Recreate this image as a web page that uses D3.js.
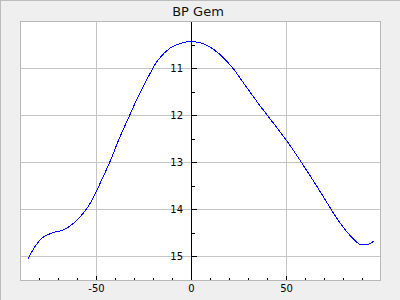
<!DOCTYPE html>
<html><head><meta charset="utf-8">
<script src="https://cdn.jsdelivr.net/npm/d3@7"></script>
<style>
html,body{margin:0;padding:0;background:#efefef;}
svg{display:block;}
text{font-family:"DejaVu Sans",sans-serif;}
</style></head>
<body>
<svg id="c" width="400" height="300"></svg>
<script>
const title = "BP Gem";
const phase = [-86, -79, -72, -67.6, -62.3, -57, -52.6, -48.3, -43, -37.7, -32.5, -28.1, -22.8, -17.6, -11.4, -6.2, -1.8, 4.4, 9.6, 14.9, 21.9, 28.1, 35.1, 40, 50, 58.2, 64, 71.1, 77.2, 85, 88.6, 93, 96.1];
const mag = [15.04, 14.62, 14.48, 14.44, 14.30, 14.08, 13.82, 13.46, 12.99, 12.46, 11.99, 11.60, 11.18, 10.82, 10.57, 10.47, 10.43, 10.45, 10.54, 10.70, 11.0, 11.35, 11.74, 12.0, 12.53, 13.02, 13.38, 13.84, 14.23, 14.62, 14.74, 14.74, 14.67];
const xMajor = [-50, 0, 50];
const xMinor = [-80, -70, -60, -40, -30, -20, -10, 10, 20, 30, 40, 60, 70, 80, 90];
const yMajor = [11, 12, 13, 14, 15];
const yMinor = [10.5, 11.5, 12.5, 13.5, 14.5];

const svg = d3.select("#c");
const L = 20.5, R = 380.5, T = 21.5, B = 280.5;
const x = d3.scaleLinear().domain([-90, 99.5]).range([20.5, 20.5 + 189.5 * 1.9]);
const y = d3.scaleLinear().domain([10, 15.5]).range([21.5, 280]);

// outer frame (top/left)
svg.append("line").attr("x1",0.5).attr("y1",0).attr("x2",0.5).attr("y2",300).attr("stroke","#bcbcbc");
svg.append("line").attr("x1",0).attr("y1",0.5).attr("x2",400).attr("y2",0.5).attr("stroke","#bcbcbc");

svg.append("rect").attr("x",L).attr("y",T).attr("width",R-L).attr("height",B-T).attr("fill","#fff");

const g = svg.append("g").attr("shape-rendering","crispEdges");
// gridlines
g.selectAll(".gx").data(xMajor.filter(d=>d!==0)).join("line")
  .attr("x1",d=>Math.floor(x(d))+0.5).attr("x2",d=>Math.floor(x(d))+0.5).attr("y1",T).attr("y2",B)
  .attr("stroke","#c4c4c4");
g.selectAll(".gy").data(yMajor).join("line")
  .attr("y1",d=>Math.floor(y(d))+0.5).attr("y2",d=>Math.floor(y(d))+0.5).attr("x1",L).attr("x2",R)
  .attr("stroke","#c4c4c4");

svg.append("rect").attr("x",L).attr("y",T).attr("width",R-L).attr("height",B-T)
  .attr("fill","none").attr("stroke","#b8b8b8").attr("shape-rendering","crispEdges");

// y axis at x=0
const ax = Math.floor(x(0))+0.5;
g.append("line").attr("x1",ax).attr("x2",ax).attr("y1",T).attr("y2",B).attr("stroke","#000");
g.selectAll(".ymaj").data(yMajor).join("line")
  .attr("x1",ax).attr("x2",ax+5).attr("y1",d=>Math.floor(y(d))+0.5).attr("y2",d=>Math.floor(y(d))+0.5).attr("stroke","#000");
g.selectAll(".ymin").data(yMinor).join("line")
  .attr("x1",ax).attr("x2",ax+3).attr("y1",d=>Math.floor(y(d))+0.5).attr("y2",d=>Math.floor(y(d))+0.5).attr("stroke","#000");
svg.selectAll(".ylab").data(yMajor).join("text")
  .attr("x",ax-8.5).attr("y",d=>y(d)).attr("dy","0.36em").attr("text-anchor","end")
  .attr("font-size",10).attr("fill","#000").text(d=>String(d));

// x ticks at bottom
g.selectAll(".xmaj").data(xMajor).join("line")
  .attr("x1",d=>Math.floor(x(d))+0.5).attr("x2",d=>Math.floor(x(d))+0.5).attr("y1",B).attr("y2",B-5).attr("stroke","#000");
g.selectAll(".xmin").data(xMinor).join("line")
  .attr("x1",d=>Math.floor(x(d))+0.5).attr("x2",d=>Math.floor(x(d))+0.5).attr("y1",B).attr("y2",B-3).attr("stroke","#000");
svg.selectAll(".xlab").data(xMajor).join("text")
  .attr("x",d=>x(d)).attr("y",292).attr("text-anchor","middle")
  .attr("font-size",10).attr("fill","#000").text(d=>String(d));

// curve
const line = d3.line().x((d,i)=>x(phase[i])).y(d=>y(d)).curve(d3.curveCatmullRom.alpha(0.5));
svg.append("path").datum(mag).attr("d",line).attr("fill","none").attr("stroke","#0000ff")
  .attr("stroke-width",1).attr("shape-rendering","crispEdges");

svg.append("text").attr("x",198).attr("y",15.5).attr("text-anchor","middle")
  .attr("font-size",13).attr("fill","#111").text(title);
</script>
</body></html>
